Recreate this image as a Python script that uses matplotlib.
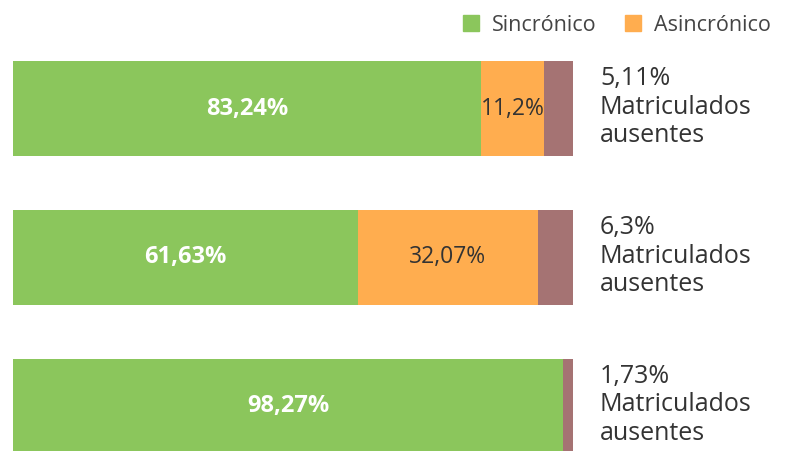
import matplotlib.pyplot as plt
from matplotlib.patches import Patch

# datos por fila (de arriba hacia abajo)
sincronico = [83.24, 61.63, 98.27]
asincronico = [11.2, 32.07, 0.0]
ausentes = [5.11, 6.3, 1.73]
sinc_labels = ["83,24%", "61,63%", "98,27%"]
asinc_labels = ["11,2%", "32,07%", ""]
aus_labels = ["5,11%", "6,3%", "1,73%"]

verde = "#8BC65C"
naranja = "#FFAD4F"
malva = "#A57373"
texto = "#333333"

plt.rcParams["font.family"] = ["Open Sans", "DejaVu Sans"]

# cada barra se apila al 100% de su total
tot = [a + b + c for a, b, c in zip(sincronico, asincronico, ausentes)]
s = [v / t * 100 for v, t in zip(sincronico, tot)]
a = [v / t * 100 for v, t in zip(asincronico, tot)]
m = [v / t * 100 for v, t in zip(ausentes, tot)]

fig = plt.figure(figsize=(7.9, 4.51), dpi=100)
ax = fig.add_axes([13 / 790, -3 / 451, 560 / 790, 393 / 451])

y = list(range(len(sincronico)))
h = 0.64
ax.barh(y, s, height=h, color=verde)
ax.barh(y, a, left=s, height=h, color=naranja)
ax.barh(y, m, left=[p + q for p, q in zip(s, a)], height=h, color=malva)

for i in y:
    ax.text(s[i] / 2, i, sinc_labels[i], ha="center", va="center",
            color="white", fontsize=17, fontweight="bold")
    if asinc_labels[i]:
        ax.text(s[i] + a[i] / 2, i, asinc_labels[i],
                ha="center", va="center", color=texto, fontsize=16.5)
    ax.text(104.8, i - 0.01, aus_labels[i] + "\nMatriculados\nausentes",
            ha="left", va="center", color=texto, fontsize=18, linespacing=1.2,
            clip_on=False)

ax.set_xlim(0, 100)
ax.set_ylim(2.32, -0.32)
ax.axis("off")

handles = [Patch(color=verde, label="Sincrónico"),
           Patch(color=naranja, label="Asincrónico")]
fig.legend(handles=handles, loc="upper right", bbox_to_anchor=(1.0, 1.01),
           ncol=2, frameon=False, fontsize=15.5, handlelength=0.75,
           handleheight=0.75, handletextpad=0.6, columnspacing=1.3,
           labelcolor="#444444")

fig.savefig("out.png", dpi=100)
